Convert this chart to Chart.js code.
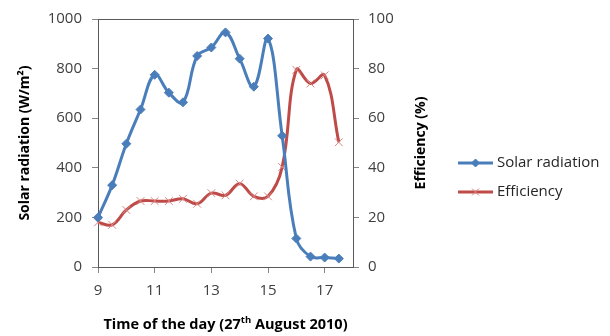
<!DOCTYPE html>
<html lang="en">
<head>
    <meta charset="UTF-8">
    <title>Solar radiation and efficiency</title>
    <style>
        html, body { margin: 0; padding: 0; background: #fff; }
        #chart { display: block; }
    </style>
    <script src="https://cdn.jsdelivr.net/npm/chart.js"></script>
</head>
<body>
    <canvas id="chart" width="610" height="336"></canvas>
    <script>
        // time of day (hours), half-hour readings
        const horas = [9, 9.5, 10, 10.5, 11, 11.5, 12, 12.5, 13, 13.5, 14, 14.5, 15, 15.5, 16, 16.5, 17, 17.5];
        const radiacion = [200, 330, 497, 635, 775, 703, 664, 851, 885, 946, 840, 727, 921, 529, 115, 42, 38, 34];
        const eficiencia = [18, 17, 23, 26.6, 26.6, 26.6, 27.5, 25.5, 29.8, 28.9, 33.6, 28.5, 28.5, 40.3, 79.5, 74, 77.3, 50.3];
        const ticksX = [9, 11, 13, 15, 17];
        const ticksRad = [0, 200, 400, 600, 800, 1000];
        const ticksEf = [0, 20, 40, 60, 80, 100];

        const AZUL = '#4A7EBB';
        const ROJO = '#BE4B48';
        const FUENTE = '"Open Sans", "Liberation Sans", sans-serif';
        const GRIS = '#868686';

        function puntos(valores) {
            return horas.map((h, i) => ({ x: h, y: valores[i] }));
        }

        // titles, plot border and legend drawn by hand
        const decoracion = {
            id: 'decoracion',
            beforeDatasetsDraw(chart) {
                const { ctx, chartArea: a } = chart;
                ctx.save();
                ctx.strokeStyle = '#595959';
                ctx.lineWidth = 1;
                ctx.strokeRect(Math.round(a.left) + 0.5, Math.round(a.top) + 0.5,
                    Math.round(a.right - a.left), Math.round(a.bottom - a.top));
                ctx.restore();
            },
            afterDraw(chart) {
                const { ctx, chartArea: a } = chart;
                ctx.save();
                ctx.fillStyle = '#000';
                ctx.textBaseline = 'middle';
                ctx.textAlign = 'center';
                const midY = (a.top + a.bottom) / 2;

                ctx.font = 'bold 14px ' + FUENTE;
                ctx.save();
                ctx.translate(25, midY);
                ctx.rotate(-Math.PI / 2);
                ctx.fillText('Solar radiation (W/m²)', 0, 0);
                ctx.restore();

                ctx.save();
                ctx.translate(421, midY);
                ctx.rotate(-Math.PI / 2);
                ctx.fillText('Efficiency (%)', 0, 0);
                ctx.restore();

                // x title with superscript "th"
                const partes = ['Time of the day (27', 'th', ' August 2010)'];
                const fNormal = 'bold 14.5px ' + FUENTE;
                const fSup = 'bold 9.5px ' + FUENTE;
                ctx.font = fNormal;
                const w0 = ctx.measureText(partes[0]).width;
                const w2 = ctx.measureText(partes[2]).width;
                ctx.font = fSup;
                const w1 = ctx.measureText(partes[1]).width;
                let x = (a.left + a.right) / 2 - (w0 + w1 + w2) / 2;
                const y = 325;
                ctx.textAlign = 'left';
                ctx.font = fNormal;
                ctx.fillText(partes[0], x, y);
                x += w0;
                ctx.font = fSup;
                ctx.fillText(partes[1], x, y - 5);
                x += w1;
                ctx.font = fNormal;
                ctx.fillText(partes[2], x, y);

                // legend
                const items = [
                    { texto: 'Solar radiation', color: AZUL, marca: 'rectRot', relleno: AZUL, r: 4 },
                    { texto: 'Efficiency', color: ROJO, marca: 'crossRot', relleno: 'rgba(0,0,0,0)', r: 5 }
                ];
                ctx.font = '15px ' + FUENTE;
                ctx.fillStyle = '#262626';
                items.forEach((it, i) => {
                    const ly = 163 + i * 29;
                    ctx.strokeStyle = it.color;
                    ctx.lineWidth = 3;
                    ctx.beginPath();
                    ctx.moveTo(458, ly);
                    ctx.lineTo(493, ly);
                    ctx.stroke();
                    ctx.save();
                    ctx.fillStyle = it.relleno;
                    ctx.strokeStyle = it.marca === 'crossRot' ? '#D98583' : it.color;
                    ctx.lineWidth = 1;
                    Chart.helpers.drawPoint(ctx, { pointStyle: it.marca, radius: it.r, rotation: 0, borderWidth: 1 }, 475.5, ly);
                    ctx.restore();
                    ctx.fillText(it.texto, 497, ly);
                });
                ctx.restore();
            }
        };

        const fijarTicks = lista => scale => { scale.ticks = lista.map(v => ({ value: v })); };
        const sinComas = v => String(v);

        new Chart(document.getElementById('chart'), {
            type: 'line',
            data: {
                datasets: [{
                    label: 'Solar radiation',
                    data: puntos(radiacion),
                    yAxisID: 'y',
                    borderColor: AZUL,
                    backgroundColor: AZUL,
                    borderWidth: 3,
                    tension: 0.4,
                    pointStyle: 'rectRot',
                    pointRadius: 4.5,
                    pointBackgroundColor: AZUL,
                    pointBorderColor: AZUL,
                    pointBorderWidth: 1,
                    clip: false
                }, {
                    label: 'Efficiency',
                    data: puntos(eficiencia),
                    yAxisID: 'y1',
                    borderColor: ROJO,
                    backgroundColor: ROJO,
                    borderWidth: 3,
                    tension: 0.4,
                    pointStyle: 'crossRot',
                    pointRadius: 5.5,
                    pointBorderColor: '#D98583',
                    pointBorderWidth: 1,
                    clip: false
                }]
            },
            options: {
                responsive: false,
                animation: false,
                devicePixelRatio: 1,
                layout: { padding: { top: 18, right: 197, left: 0, bottom: 0 } },
                plugins: { legend: { display: false }, tooltip: { enabled: false } },
                scales: {
                    x: {
                        type: 'linear',
                        min: 9,
                        max: 18,
                        afterBuildTicks: fijarTicks(ticksX),
                        afterFit: s => { s.height = 69; },
                        grid: { drawOnChartArea: false, tickLength: 6, color: GRIS },
                        border: { display: true, color: GRIS },
                        ticks: { color: '#404040', padding: 9, maxRotation: 0, callback: sinComas, font: { family: FUENTE, size: 15 } }
                    },
                    y: {
                        position: 'left',
                        min: 0,
                        max: 1000,
                        afterBuildTicks: fijarTicks(ticksRad),
                        afterFit: s => { s.width = 98; },
                        grid: { drawOnChartArea: false, tickLength: 6, color: GRIS },
                        border: { display: true, color: GRIS },
                        ticks: { color: '#404040', padding: 10, callback: sinComas, font: { family: FUENTE, size: 15 } }
                    },
                    y1: {
                        position: 'right',
                        min: 0,
                        max: 100,
                        afterBuildTicks: fijarTicks(ticksEf),
                        afterFit: s => { s.width = 60; },
                        grid: { drawOnChartArea: false, tickLength: 6, color: GRIS },
                        border: { display: true, color: GRIS },
                        ticks: { color: '#404040', padding: 9, callback: sinComas, font: { family: FUENTE, size: 15 } }
                    }
                }
            },
            plugins: [decoracion]
        });
    </script>
</body>
</html>
